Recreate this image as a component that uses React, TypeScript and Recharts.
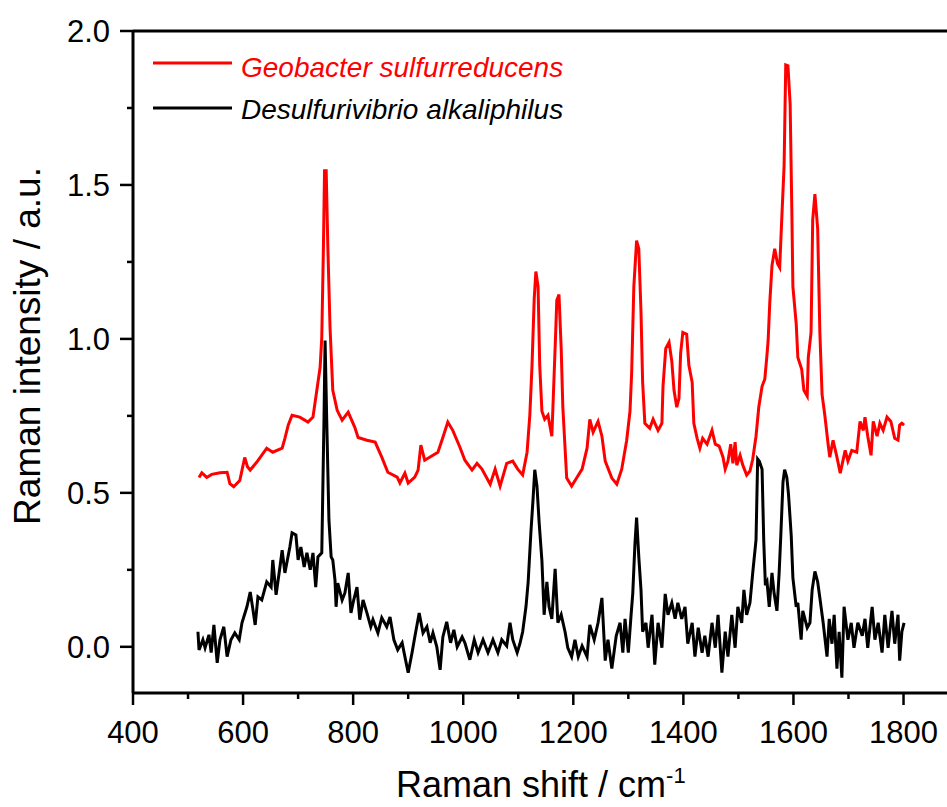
import React from 'react';
import { LineChart, Line, XAxis, YAxis, Legend, ReferenceLine } from 'recharts';

const geoShift = [520,525,534,543,558,571,576,583,594,603,608,613,625,635,643,654,671,676,682,689,703,718,727,734,740,743,746,748,751,754,758,763,771,780,791,803,809,825,840,852,863,880,885,894,900,912,918,923,930,945,954,963,972,981,994,1003,1016,1025,1034,1049,1058,1067,1079,1090,1099,1108,1116,1121,1125,1129,1132,1136,1139,1143,1148,1154,1161,1163,1168,1170,1174,1178,1181,1188,1197,1206,1216,1225,1230,1236,1245,1252,1258,1270,1279,1288,1297,1303,1306,1310,1315,1319,1323,1326,1330,1339,1345,1354,1361,1363,1368,1374,1379,1383,1388,1392,1395,1399,1406,1410,1416,1419,1425,1430,1435,1443,1452,1458,1465,1472,1476,1481,1486,1490,1494,1497,1503,1508,1515,1521,1526,1532,1537,1543,1548,1552,1554,1557,1561,1566,1571,1575,1578,1583,1586,1590,1594,1597,1599,1605,1608,1615,1619,1625,1627,1632,1635,1639,1644,1648,1652,1657,1663,1666,1672,1679,1685,1694,1699,1706,1715,1721,1727,1730,1735,1741,1745,1752,1757,1763,1770,1777,1784,1790,1793,1797,1801];
const geoIntensity = [0.55,0.565,0.55,0.56,0.565,0.567,0.53,0.52,0.54,0.615,0.585,0.574,0.6,0.625,0.645,0.632,0.645,0.677,0.72,0.752,0.746,0.73,0.746,0.833,0.908,1.005,1.3,1.546,1.546,1.3,1.037,0.833,0.768,0.736,0.762,0.713,0.68,0.671,0.665,0.616,0.567,0.551,0.532,0.564,0.532,0.551,0.574,0.655,0.606,0.622,0.632,0.68,0.73,0.703,0.648,0.606,0.574,0.596,0.577,0.528,0.577,0.522,0.596,0.603,0.577,0.558,0.632,0.752,0.914,1.131,1.219,1.17,0.914,0.765,0.739,0.752,0.684,0.778,1.021,1.125,1.144,0.969,0.778,0.548,0.522,0.548,0.577,0.645,0.739,0.697,0.732,0.684,0.603,0.548,0.528,0.577,0.671,0.765,0.888,1.17,1.319,1.293,1.089,0.859,0.726,0.71,0.739,0.703,0.726,0.846,0.969,0.989,0.927,0.833,0.778,0.807,0.953,1.021,1.015,0.914,0.859,0.726,0.677,0.645,0.677,0.658,0.703,0.658,0.652,0.616,0.577,0.603,0.658,0.596,0.665,0.59,0.622,0.59,0.558,0.571,0.609,0.684,0.778,0.846,0.87,0.95,0.995,1.118,1.238,1.293,1.245,1.232,1.358,1.562,1.89,1.887,1.763,1.426,1.17,1.05,0.94,0.901,0.833,0.814,0.94,1.021,1.387,1.47,1.358,1.021,0.82,0.752,0.658,0.616,0.671,0.616,0.564,0.638,0.603,0.638,0.632,0.732,0.703,0.746,0.684,0.622,0.732,0.684,0.726,0.703,0.746,0.732,0.677,0.671,0.72,0.726,0.72];

const desShift = [518,520,527,531,538,542,547,553,558,565,571,578,585,593,598,607,613,618,622,627,634,643,651,654,660,667,671,676,685,689,696,700,705,711,716,722,727,732,736,743,747,749,752,756,760,763,767,769,772,780,785,791,796,801,807,812,818,825,832,836,845,852,861,867,874,881,889,894,900,907,912,920,927,934,940,945,952,958,963,970,977,983,989,998,1003,1012,1020,1027,1036,1045,1054,1063,1070,1079,1085,1090,1098,1103,1108,1114,1118,1123,1127,1130,1134,1138,1143,1147,1152,1156,1161,1167,1172,1178,1185,1190,1197,1203,1209,1216,1225,1230,1238,1245,1252,1258,1263,1270,1278,1285,1290,1294,1300,1305,1308,1312,1315,1319,1323,1326,1332,1336,1343,1348,1354,1361,1367,1372,1379,1385,1390,1397,1403,1408,1416,1421,1427,1434,1439,1445,1452,1458,1463,1470,1476,1481,1488,1494,1499,1506,1510,1515,1521,1526,1532,1535,1538,1543,1546,1549,1552,1556,1561,1565,1570,1574,1577,1581,1584,1588,1591,1596,1599,1605,1608,1614,1617,1625,1630,1634,1639,1644,1648,1654,1661,1665,1670,1674,1679,1683,1688,1692,1699,1705,1710,1717,1725,1730,1735,1743,1748,1754,1761,1766,1772,1779,1784,1790,1793,1797,1801];
const desIntensity = [0.049,-0.01,0.023,-0.003,0.039,-0.019,0.071,-0.052,0.023,0.065,-0.032,0.023,0.045,0.023,0.078,0.13,0.178,0.12,0.071,0.162,0.152,0.211,0.194,0.282,0.169,0.259,0.314,0.24,0.324,0.37,0.363,0.282,0.324,0.259,0.305,0.25,0.305,0.194,0.292,0.305,0.736,0.995,0.736,0.412,0.292,0.282,0.217,0.13,0.207,0.152,0.175,0.24,0.11,0.152,0.194,0.088,0.152,0.11,0.065,0.088,0.045,0.094,0.065,0.097,0.023,-0.01,0.013,-0.032,-0.084,-0.019,0.032,0.11,0.045,0.065,0.013,0.045,0,-0.075,0.032,0.081,0.013,0.055,0,0.032,0.013,-0.042,0.023,-0.019,0.023,-0.019,0.023,-0.019,0.023,0.003,0.078,0.023,-0.019,0.01,0.049,0.13,0.211,0.373,0.483,0.575,0.522,0.402,0.279,0.104,0.211,0.13,0.091,0.253,0.078,0.104,0.049,-0.003,-0.032,0.023,-0.032,0.003,-0.032,0.071,0.023,0.078,0.159,-0.045,0.023,-0.071,0.036,0.078,-0.019,0.091,-0.019,0.104,0.172,0.334,0.42,0.292,0.185,0.049,0.078,-0.003,0.104,-0.058,0.078,-0.003,0.172,0.104,0.143,0.091,0.143,0.091,0.13,0.01,0.078,-0.032,0.062,-0.019,0.036,-0.032,0.078,-0.003,0.104,-0.084,0.049,-0.032,0.104,-0.003,0.13,0.078,0.185,0.104,0.143,0.24,0.347,0.61,0.603,0.577,0.347,0.2,0.211,0.13,0.24,0.172,0.117,0.24,0.36,0.535,0.575,0.55,0.496,0.36,0.224,0.13,0.143,0.023,0.117,0.062,0.078,0.185,0.245,0.211,0.159,0.078,-0.032,0.091,0.01,0.104,-0.071,0.049,-0.1,0.13,0.023,0.078,-0.003,0.078,0.036,0.091,-0.003,0.13,0.023,0.078,-0.019,0.104,-0.003,0.117,0.01,0.104,-0.045,0.049,0.078];

const seriesNames = ['Geobacter sulfurreducens', 'Desulfurivibrio alkaliphilus'];
const seriesColors = ['#ff0000', '#000000'];
const xMajorTicks = [400, 600, 800, 1000, 1200, 1400, 1600, 1800];
const xMinorTicks = [500, 700, 900, 1100, 1300, 1500, 1700];
const yMajorTicks = [0, 0.5, 1.0, 1.5, 2.0];
const yMinorTicks = [0.25, 0.75, 1.25, 1.75];
const xTitle = 'Raman shift / cm';
const xTitleSup = '-1';
const yTitle = 'Raman intensity / a.u.';

const geoData = geoShift.map((s, i) => ({ shift: s, value: geoIntensity[i] }));
const desData = desShift.map((s, i) => ({ shift: s, value: desIntensity[i] }));

const FONT = 'Liberation Sans, Arial, sans-serif';

const XTick = (props: any) => {
  const { x, y, payload } = props;
  const major = xMajorTicks.includes(payload.value);
  return (
    <g>
      <line x1={x} x2={x} y1={y} y2={y + (major ? 12 : 6)} stroke="#000" strokeWidth={2.5} />
      {major && (
        <text x={x} y={y + 50} textAnchor="middle" fontSize={31} fontFamily={FONT} fill="#000">
          {payload.value}
        </text>
      )}
    </g>
  );
};

const YTick = (props: any) => {
  const { x, y, payload } = props;
  const major = yMajorTicks.some((t) => Math.abs(t - payload.value) < 1e-9);
  return (
    <g>
      <line x1={x} x2={x - (major ? 13 : 6)} y1={y} y2={y} stroke="#000" strokeWidth={2.5} />
      {major && (
        <text x={x - 23} y={y + 11} textAnchor="end" fontSize={31} fontFamily={FONT} fill="#000">
          {payload.value.toFixed(1)}
        </text>
      )}
    </g>
  );
};

const LegendBox = () => (
  <svg width={620} height={140} style={{ display: 'block' }}>
    <line x1={153} x2={232} y1={63} y2={63} stroke={seriesColors[0]} strokeWidth={3} />
    <text x={241} y={77} fontSize={28} fontStyle="italic" fontFamily={FONT} fill={seriesColors[0]}>
      {seriesNames[0]}
    </text>
    <line x1={153} x2={232} y1={108} y2={108} stroke={seriesColors[1]} strokeWidth={3} />
    <text x={241} y={119} fontSize={28} fontStyle="italic" fontFamily={FONT} fill={seriesColors[1]}>
      {seriesNames[1]}
    </text>
  </svg>
);

export default function App() {
  return (
    <div style={{ position: 'absolute', left: 0, top: 0, background: '#fff' }}>
      <LineChart width={947} height={807} margin={{ top: 31, right: 0, bottom: 0, left: 0 }}>
        <XAxis
          dataKey="shift"
          type="number"
          domain={[400, 1879]}
          allowDataOverflow
          ticks={[...xMajorTicks, ...xMinorTicks].sort((a, b) => a - b)}
          interval={0}
          tickSize={0}
          tickMargin={0}
          tickLine={false}
          tick={<XTick />}
          height={114}
          axisLine={{ stroke: '#000', strokeWidth: 3 }}
          label={{
            content: () => (
              <text x={396} y={797} fontSize={36} fontFamily={FONT} fill="#000">
                {xTitle}
                <tspan fontSize={22} dy={-14}>{xTitleSup}</tspan>
              </text>
            ),
          }}
        />
        <YAxis
          type="number"
          domain={[-0.15, 2.0]}
          allowDataOverflow
          ticks={[...yMajorTicks, ...yMinorTicks].sort((a, b) => a - b)}
          interval={0}
          tickSize={0}
          tickMargin={0}
          tickLine={false}
          tick={<YTick />}
          width={133}
          axisLine={{ stroke: '#000', strokeWidth: 3 }}
          label={{
            content: () => (
              <text
                x={40}
                y={346}
                textAnchor="middle"
                fontSize={37}
                fontFamily={FONT}
                fill="#000"
                transform="rotate(-90, 40, 346)"
              >
                {yTitle}
              </text>
            ),
          }}
        />
        <ReferenceLine y={2.0} stroke="#000" strokeWidth={3} />
        <Legend
          layout="vertical"
          align="center"
          verticalAlign="middle"
          content={() => <LegendBox />}
          wrapperStyle={{ position: 'absolute', left: 0, top: 0, width: 620, height: 140 }}
        />
        <Line
          data={geoData}
          dataKey="value"
          name={seriesNames[0]}
          stroke={seriesColors[0]}
          strokeWidth={3}
          dot={false}
          activeDot={false}
          isAnimationActive={false}
          type="linear"
        />
        <Line
          data={desData}
          dataKey="value"
          name={seriesNames[1]}
          stroke={seriesColors[1]}
          strokeWidth={3}
          dot={false}
          activeDot={false}
          isAnimationActive={false}
          type="linear"
        />
      </LineChart>
    </div>
  );
}
